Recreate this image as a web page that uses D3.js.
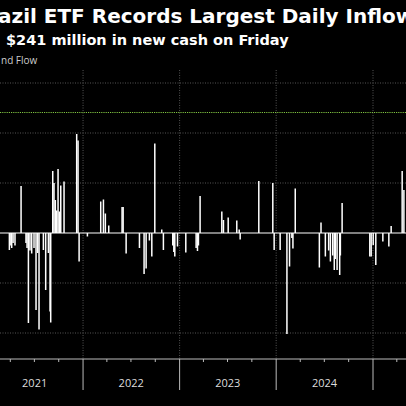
<!DOCTYPE html>
<html><head><meta charset="utf-8">
<script src="https://cdn.jsdelivr.net/npm/d3@7"></script>
<style>body{margin:0;background:#000}svg{display:block}</style></head>
<body><svg id="c" width="406" height="406"></svg>
<script>
const title = "azil ETF Records Largest Daily Inflow";
const subtitle = "$241 million in new cash on Friday";
const axisLabel = "nd Flow";
const yearLabels = ["2021","2022","2023","2024"];
const yTicks = [-200,-100,0,100,200,300];
const recordLevel = 241;
// dates as decimal years, values in millions USD
const dates = [2021.237,2021.245,2021.261,2021.275,2021.295,2021.358,2021.409,2021.420,2021.434,2021.450,2021.468,2021.492,2021.513,2021.530,2021.544,2021.589,2021.613,2021.641,2021.658,2021.665,2021.686,2021.699,2021.713,2021.727,2021.741,2021.755,2021.769,2021.803,2021.934,2021.948,2021.959,2022.045,2022.183,2022.211,2022.231,2022.266,2022.404,2022.415,2022.446,2022.584,2022.632,2022.653,2022.687,2022.712,2022.743,2022.815,2022.832,2022.929,2022.940,2022.950,2022.978,2023.064,2023.171,2023.185,2023.195,2023.212,2023.437,2023.454,2023.503,2023.592,2023.617,2023.627,2023.820,2023.965,2023.979,2024.041,2024.111,2024.138,2024.162,2024.173,2024.197,2024.446,2024.463,2024.508,2024.542,2024.560,2024.584,2024.600,2024.611,2024.629,2024.656,2024.663,2024.681,2024.967,2024.981,2025.002,2025.029,2025.102,2025.164,2025.188,2025.302,2025.320,2025.337];
const values = [-34,-25,-30,-20,-25,94,-20,-30,-180,-35,-41,-30,-154,-40,-193,-34,-114,-40,-157,-179,124,100,66,45,128,43,95,103,198,185,-57,-7,63,67,39,15,52,52,-41,-30,-82,-71,-15,-47,179,7,-34,-25,-38,-47,-27,-39,-30,-36,-25,74,43,26,31,25,7,-13,104,100,-34,-34,-202,-67,-10,-31,89,-69,21,-47,-35,-57,-45,-74,-52,-74,-84,-45,60,-47,-47,-24,-64,-17,-27,14,124,86];

const svg = d3.select("#c");
const toDate = d => { const y = Math.floor(d); const a = new Date(y,0,1), b = new Date(y+1,0,1); return new Date(+a + (d-y)*(b-a)); };
const x = d3.scaleTime().domain([new Date(2021,0,1), new Date(2025,0,1)]).range([-13.5, 373]);
const y = d3.scaleLinear().domain([-200,300]).range([333,83]);
const axisY = 359;

svg.append("text").attr("x",-2).attr("y",23).attr("fill","#fff").attr("font-family","DejaVu Sans").attr("font-weight","bold").attr("font-size",20).text(title);
svg.append("text").attr("x",6).attr("y",45).attr("fill","#fff").attr("font-family","DejaVu Sans").attr("font-weight","bold").attr("font-size",14.5).text(subtitle);
svg.append("text").attr("x",1).attr("y",64).attr("fill","#ccc").attr("font-family","Open Sans").attr("font-size",10).text(axisLabel);

// horizontal grid
svg.append("g").selectAll("line").data(yTicks.filter(t=>t!==0)).join("line")
  .attr("x1",0).attr("x2",406).attr("y1",d=>y(d)).attr("y2",d=>y(d))
  .attr("stroke","#555").attr("stroke-dasharray","1,1.5");
// vertical year grid
const years = [2022,2023,2024,2025].map(v=>new Date(v,0,1));
svg.append("g").selectAll("line").data(years).join("line")
  .attr("x1",d=>x(d)).attr("x2",d=>x(d)).attr("y1",70).attr("y2",axisY)
  .attr("stroke","#555").attr("stroke-dasharray","1,1.5");
// record line
svg.append("line").attr("x1",0).attr("x2",406).attr("y1",y(recordLevel)).attr("y2",y(recordLevel))
  .attr("stroke","#7fc241").attr("stroke-width",1.2).attr("stroke-dasharray","1.2,1");

// bars
svg.append("g").selectAll("rect").data(dates.map((d,i)=>({d:toDate(d),v:values[i]}))).join("rect")
  .attr("x",d=>x(d.d)-0.75).attr("width",1.5)
  .attr("y",d=>y(Math.max(0,d.v))).attr("height",d=>Math.abs(y(d.v)-y(0)))
  .attr("fill","#fff");
svg.append("line").attr("x1",0).attr("x2",406).attr("y1",y(0)).attr("y2",y(0)).attr("stroke","#fff").attr("stroke-width",1);

// x axis
svg.append("line").attr("x1",0).attr("x2",406).attr("y1",axisY).attr("y2",axisY).attr("stroke","#bbb");
const quarters = d3.timeMonth.every(3).range(new Date(2021,0,1), new Date(2025,6,1));
svg.append("g").selectAll("line").data(quarters).join("line")
  .attr("x1",d=>x(d)).attr("x2",d=>x(d)).attr("y1",axisY).attr("y2",d=>d.getMonth()===0?390:axisY+3)
  .attr("stroke","#bbb");
svg.append("g").selectAll("text").data(yearLabels).join("text")
  .attr("x",d=>x(new Date(+d,6,2))).attr("y",387).attr("text-anchor","middle")
  .attr("fill","#ddd").attr("font-family","Open Sans").attr("font-size",11).text(d=>d);
</script></body></html>
